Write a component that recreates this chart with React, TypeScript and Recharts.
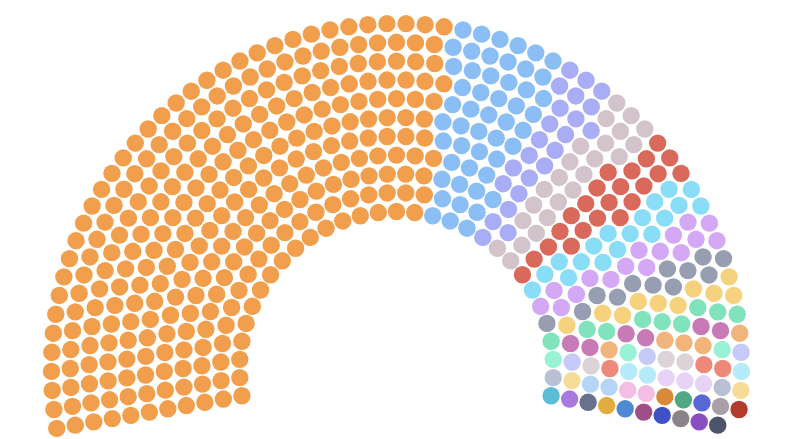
import React from 'react';
import { ScatterChart, Scatter, XAxis, YAxis } from 'recharts';

// Parties in seating order (left to right)
const partyNames = [
  'Party 1', 'Party 2', 'Party 3', 'Party 4', 'Party 5', 'Party 6', 'Party 7', 'Party 8',
  'Party 9', 'Party 10', 'Party 11', 'Party 12', 'Party 13', 'Party 14', 'Party 15', 'Party 16',
  'Party 17', 'Party 18', 'Party 19', 'Party 20', 'Party 21', 'Party 22', 'Party 23', 'Party 24',
  'Party 25', 'Party 26', 'Party 27', 'Party 28', 'Party 29', 'Party 30', 'Party 31', 'Party 32',
  'Party 33', 'Party 34', 'Party 35', 'Party 36', 'Party 37',
];

const partySeats = [
  287, 50, 23, 23, 22, 18, 16, 12, 10, 9, 6, 5,
  3, 3, 3, 3, 3, 3, 2, 2, 2, 2,
  1, 1, 1, 1, 1, 1, 1, 1, 1, 1, 1, 1, 1, 1, 1,
];

const partyColors = [
  '#F19F4D', '#8CBEF6', '#A9ADF6', '#D3C4CB', '#D9695B', '#8ADDF6', '#D4A8F5', '#979EB1',
  '#F6D27F', '#80E3BC', '#C87AB6', '#F1B57B', '#99F2D5', '#C6CAF8', '#DCD3D8', '#EE8878',
  '#B5EBF9', '#E7D3F8', '#B9C0D3', '#F7DB98', '#B5D5F6', '#F3BEE4',
  '#D88A36', '#4FA985', '#5768D6', '#A99FA6', '#B43A2C', '#5ABCD6', '#A879DE', '#69718C',
  '#E2AC3E', '#4E8AD4', '#9E4E88', '#3F51C6', '#8B8387', '#8A4EC2', '#4B5468',
];

// Seats per row (inner to outer), as gaps between first and last seat
const rowColumns = [30, 33, 37, 40, 43, 47, 50, 53, 56, 60, 63];

const W = 802;
const H = 439;
const CX = 396.5;
const CY = 368.5;
const R_IN = 157;
const R_OUT = 345;
const START_DEG = -190;
const END_DEG = 10;
const DOT_R = 8.7;

type Slot = { deg: number; r: number; row: number };

function buildSeries() {
  const slots: Slot[] = [];
  const n = rowColumns.length;
  rowColumns.forEach((cols, i) => {
    const r = R_IN + ((R_OUT - R_IN) * i) / (n - 1);
    for (let c = 0; c <= cols; c++) {
      const deg = START_DEG + ((END_DEG - START_DEG) * c) / cols;
      slots.push({ deg, r, row: i });
    }
  });
  slots.sort((a, b) => (Math.abs(a.deg - b.deg) > 1e-9 ? a.deg - b.deg : a.row - b.row));
  let k = 0;
  return partyNames.map((name, p) => {
    const pts: { x: number; y: number }[] = [];
    for (let s = 0; s < partySeats[p]; s++) {
      const slot = slots[k++];
      if (!slot) break;
      const a = (slot.deg * Math.PI) / 180;
      pts.push({ x: CX + slot.r * Math.cos(a), y: CY + slot.r * Math.sin(a) });
    }
    return { name, color: partyColors[p], data: pts };
  });
}

const series = buildSeries();

const Dot = (props: any) => {
  const { cx, cy, fill } = props;
  if (cx == null || cy == null) return null;
  return <circle cx={cx} cy={cy} r={DOT_R} fill={fill} />;
};

export default function App() {
  return (
    <div style={{ position: 'absolute', left: 0, top: 0, width: W, height: H, background: '#fff' }}>
      <ScatterChart width={W} height={H} margin={{ top: 0, right: 0, bottom: 0, left: 0 }}>
        <XAxis type="number" dataKey="x" domain={[0, W]} hide />
        <YAxis type="number" dataKey="y" domain={[0, H]} reversed hide />
        {series.map((s) => (
          <Scatter
            key={s.name}
            name={s.name}
            data={s.data}
            fill={s.color}
            shape={Dot}
            isAnimationActive={false}
          />
        ))}
      </ScatterChart>
    </div>
  );
}
